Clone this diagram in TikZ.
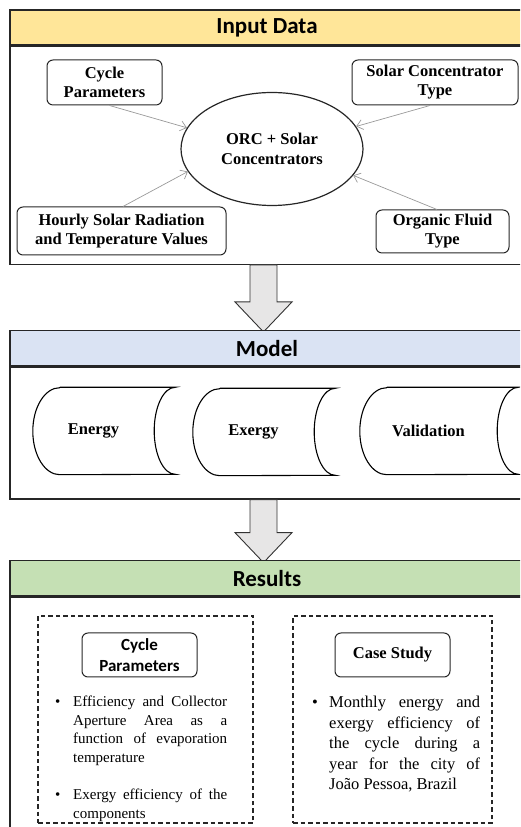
\documentclass[tikz,border=0pt]{standalone}
\usepackage{fontspec}
\setmainfont{Liberation Serif}
\newfontfamily\calibri{Carlito}
\usetikzlibrary{shapes.geometric,arrows.meta,positioning,calc}
\definecolor{inputyellow}{RGB}{255,230,153}
\definecolor{modelblue}{RGB}{218,227,243}
\definecolor{resultgreen}{RGB}{197,224,180}
\definecolor{blockgray}{RGB}{231,230,230}

\tikzset{
  headbar/.style={draw=black!85, line width=1.3pt, minimum width=514pt, minimum height=35pt,
                  inner sep=0pt, font=\calibri\bfseries\fontsize{23}{27}\selectfont},
  panel/.style={draw=black!85, line width=1.3pt, minimum width=514pt, inner sep=0pt},
  databox/.style={draw=black!85, line width=1pt, rounded corners=6pt, align=center, inner sep=0pt,
                  font=\bfseries\fontsize{16.5}{19}\selectfont},
  feed/.style={draw=gray!80, line width=0.7pt, -{Straight Barb[length=6pt,width=10pt]}},
  bigarrow/.style={draw=black!80, fill=blockgray, line width=0.9pt},
  storenode/.style={minimum height=87pt, inner sep=0pt, font=\bfseries\fontsize{16.5}{19}\selectfont},
  resbox/.style={draw=black!85, line width=1.3pt, dash pattern=on 4.5pt off 3pt, inner sep=0pt},
  bullets/.style={anchor=north west, align=justify, inner sep=0pt},
}

% outline of a stored-data shape round a node
\newcommand{\storeoutline}[1]{%
  \draw[line width=1.1pt] ([xshift=27pt]#1.north west) -- ([xshift=21pt]#1.north east)
    arc[start angle=90, end angle=270, x radius=21pt, y radius=43.5pt]
    -- ([xshift=27pt]#1.south west)
    arc[start angle=270, end angle=90, x radius=27pt, y radius=43.5pt];}
\newcommand{\resitem}[2]{\hyphenpenalty=10000\relax\hangindent=#1\relax\hangafter=1\relax
  \noindent\makebox[#1][l]{\textbullet}#2\par}

\begin{document}
\begin{tikzpicture}[x=1pt, y=1pt]
  \useasboundingbox (0,0) rectangle (520,827);
  \clip (0,0) rectangle (520,827);

  % input data
  \node[headbar, fill=inputyellow] (inhead) at (267,799.5) {Input Data};
  \node[panel, minimum height=218pt, anchor=north] (inbody) at (inhead.south) {};

  \node[databox, minimum width=115pt, minimum height=45pt] (cycpar) at (104.5,744.5) {Cycle\\Parameters};
  \node[databox, minimum width=166pt, minimum height=45pt] (solcon) at (435,744.5) {Solar Concentrator\\Type};
  \node[draw=black!85, line width=1.2pt, ellipse, minimum width=182pt, minimum height=113pt, inner sep=0pt,
        align=center, font=\bfseries\fontsize{16.5}{20}\selectfont] (orc) at (272,678) {ORC + Solar\\Concentrators};
  \node[databox, minimum width=209pt, minimum height=48pt] (hourly) at (121.5,596) {Hourly Solar Radiation\\and Temperature Values};
  \node[databox, minimum width=133pt, minimum height=43pt] (organic) at (442.5,595.5) {Organic Fluid\\Type};

  \draw[feed] ([xshift=5pt]cycpar.south) -- (orc.166);
  \draw[feed] ([xshift=-5pt]solcon.south) -- (orc.15);
  \draw[feed] ([xshift=1.5pt]hourly.north) -- (orc.195);
  \draw[feed] ([xshift=-5.5pt]organic.north) -- (orc.342);

  \draw[bigarrow] ([xshift=-17pt]inbody.south) -- ++(0,-37) -- ++(-15,0) -- ++(28.5,-30)
                  -- ++(28.5,30) -- ++(-15,0) -- ++(0,37) -- cycle;

  % model
  \node[headbar, fill=modelblue, anchor=north] (modhead) at (267,497) {Model};
  \node[panel, minimum height=132pt, anchor=north] (modbody) at (modhead.south) {};

  \node[storenode, minimum width=121pt] (energy) at (93.5,396) {Energy};
  \node[storenode, minimum width=121pt] (exergy) at (253.5,395) {Exergy};
  \node[storenode, minimum width=137pt] (valid) at (428.5,396) {Validation};
  \storeoutline{energy}
  \storeoutline{exergy}
  \storeoutline{valid}

  \draw[bigarrow] ([xshift=-17pt]modbody.south) -- ++(0,-33) -- ++(-15,0) -- ++(28.5,-30)
                  -- ++(28.5,30) -- ++(-15,0) -- ++(0,33) -- cycle;

  % results
  \node[headbar, fill=resultgreen, anchor=north] (reshead) at (267,267) {Results};
  \node[panel, minimum height=240pt, anchor=north] (resbody) at (reshead.south) {};

  \node[resbox, minimum width=215pt, minimum height=207pt] (resleft) at (145.5,107.5) {};
  \node[resbox, minimum width=199pt, minimum height=207pt] (resright) at (392.5,107.5) {};

  \node[databox, minimum width=115pt, minimum height=44pt,
        font=\calibri\bfseries\fontsize{17}{21}\selectfont] (cycres) at (139.5,172) {Cycle\\Parameters};
  \node[databox, minimum width=115pt, minimum height=44pt] (casestudy) at (392.5,172) {Case Study};

  \node[bullets, text width=172pt, font=\fontsize{15}{18.5}\selectfont] (leftlist) at (55,131)
       {\resitem{18pt}{Efficiency and Collector Aperture Area as a function of evaporation temperature}
        \vspace{19pt}
        \resitem{18pt}{Exergy efficiency of the components}};
  \node[bullets, text width=168pt, font=\fontsize{16.5}{20.5}\selectfont] (rightlist) at (312,131)
       {\resitem{17pt}{Monthly energy and exergy efficiency of the cycle during a\linebreak year for the city of João Pessoa, Brazil}};
\end{tikzpicture}
\end{document}
